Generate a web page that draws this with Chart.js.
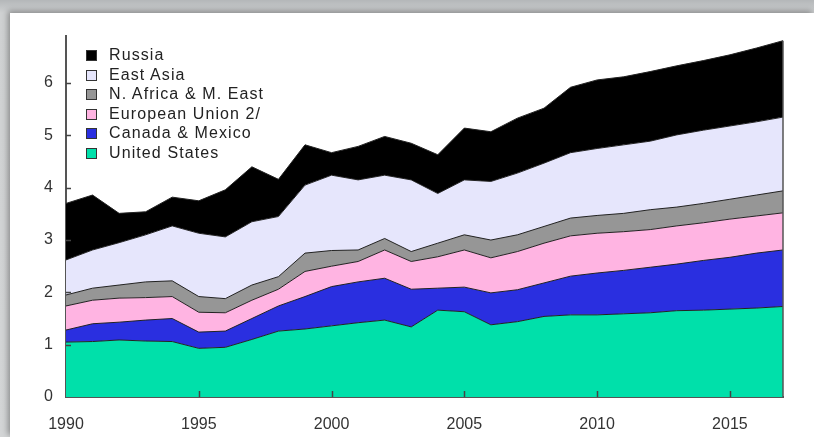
<!DOCTYPE html>
<html>
<head>
<meta charset="utf-8">
<script src="https://cdn.jsdelivr.net/npm/chart.js@4"></script>
<style>
    html, body { margin: 0; padding: 0; width: 814px; height: 437px; overflow: hidden; }
    body { background: linear-gradient(180deg, #b4b7b9 0px, #cfd1d2 13px, #d3d5d6 100%); position: relative; }
    #panel { position: absolute; left: 10px; top: 13px; right: 0; bottom: 0; background: #fff; box-shadow: -2px -2px 6px rgba(0,0,0,0.35); }
    #wrap { position: absolute; left: 0; top: 0; width: 814px; height: 437px; }
    #legend { position: absolute; left: 86px; top: 45px; font-family: "Liberation Sans", Arial, sans-serif; font-size: 16px; letter-spacing: 1.1px; color: #222; }
    #legend div { height: 19.5px; line-height: 19.5px; white-space: nowrap; }
    #legend span.box { display: inline-block; width: 9px; height: 9px; border: 1px solid #333; margin-right: 12px; vertical-align: -1px; }
</style>
</head>
<body>
<div id="panel"></div>
<div id="wrap"><canvas id="chart" width="814" height="437"></canvas></div>
<div id="legend"></div>
<script>
// Years on the x axis
const years = [];
for (let y = 1990; y <= 2017; y++) years.push(String(y));

const yTicks = [0, 1, 2, 3, 4, 5, 6];

// Series values (stacked, bottom to top)
const unitedStates = [1.05, 1.06, 1.09, 1.07, 1.06, 0.93, 0.95, 1.10, 1.26, 1.30, 1.36, 1.42, 1.47, 1.34, 1.66, 1.63, 1.38, 1.44, 1.54, 1.57, 1.57, 1.59, 1.61, 1.65, 1.66, 1.68, 1.70, 1.73];
const canadaMexico = [0.23, 0.34, 0.34, 0.40, 0.44, 0.31, 0.31, 0.40, 0.48, 0.62, 0.75, 0.78, 0.80, 0.72, 0.42, 0.47, 0.61, 0.61, 0.64, 0.74, 0.80, 0.83, 0.87, 0.89, 0.95, 0.99, 1.05, 1.08];
const europeanUnion = [0.46, 0.45, 0.46, 0.43, 0.42, 0.38, 0.35, 0.35, 0.32, 0.48, 0.39, 0.39, 0.54, 0.53, 0.60, 0.71, 0.67, 0.73, 0.76, 0.77, 0.76, 0.74, 0.72, 0.73, 0.72, 0.73, 0.71, 0.71];
const nAfricaMEast = [0.21, 0.23, 0.25, 0.30, 0.30, 0.30, 0.27, 0.29, 0.24, 0.35, 0.30, 0.22, 0.22, 0.19, 0.26, 0.29, 0.34, 0.32, 0.32, 0.34, 0.34, 0.35, 0.38, 0.36, 0.37, 0.38, 0.40, 0.42];
const eastAsia = [0.67, 0.73, 0.81, 0.90, 1.05, 1.21, 1.18, 1.21, 1.15, 1.30, 1.44, 1.34, 1.21, 1.37, 0.95, 1.05, 1.12, 1.18, 1.21, 1.25, 1.28, 1.31, 1.31, 1.38, 1.40, 1.40, 1.40, 1.41];
const russia = [1.08, 1.05, 0.56, 0.44, 0.55, 0.62, 0.90, 1.05, 0.71, 0.77, 0.43, 0.64, 0.74, 0.70, 0.74, 0.99, 0.95, 1.05, 1.05, 1.25, 1.31, 1.30, 1.33, 1.32, 1.33, 1.36, 1.41, 1.46];

const seriesLabels = ['United States', 'Canada & Mexico', 'European Union 2/', 'N. Africa & M. East', 'East Asia', 'Russia'];
const seriesData = [unitedStates, canadaMexico, europeanUnion, nAfricaMEast, eastAsia, russia];
const seriesColors = ['#00e0aa', '#2a2fe0', '#ffb4e2', '#969696', '#e6e6fc', '#000000'];

const fontFamily = '"Liberation Sans", Arial, sans-serif';

// Build the stacked area datasets
const datasets = seriesData.map((vals, i) => ({
    label: seriesLabels[i],
    data: vals,
    backgroundColor: seriesColors[i],
    borderColor: '#222',
    borderWidth: 1,
    fill: i === 0 ? 'origin' : '-1',
    pointRadius: 0,
    tension: 0,
}));

// Small inward tick marks and right edge line
const innerTicks = {
    id: 'innerTicks',
    afterDraw(chart) {
        const ctx = chart.ctx;
        const area = chart.chartArea;
        const xs = chart.scales.x;
        const ys = chart.scales.y;
        ctx.save();
        ctx.strokeStyle = '#444';
        ctx.lineWidth = 1.5;
        ctx.beginPath();
        yTicks.slice(1).forEach(v => {
            const py = Math.round(ys.getPixelForValue(v)) + 0.5;
            ctx.moveTo(area.left, py);
            ctx.lineTo(area.left + 5, py);
        });
        years.forEach((yr, i) => {
            if (i > 0 && Number(yr) % 5 === 0) {
                const px = Math.round(xs.getPixelForValue(i)) + 0.5;
                ctx.moveTo(px, area.bottom);
                ctx.lineTo(px, area.bottom - 6);
            }
        });
        ctx.stroke();
        ctx.strokeStyle = '#555';
        ctx.lineWidth = 1.5;
        ctx.beginPath();
        ctx.moveTo(area.right, area.bottom);
        ctx.lineTo(area.right, ys.getPixelForValue(russia.length ? 6.81 : 0));
        ctx.stroke();
        ctx.restore();
    }
};

const ctx = document.getElementById('chart').getContext('2d');
new Chart(ctx, {
    type: 'line',
    data: { labels: years, datasets: datasets },
    options: {
        responsive: false,
        animation: false,
        layout: { padding: { top: 36, right: 31, bottom: 0, left: 0 } },
        plugins: {
            legend: { display: false },
            tooltip: { enabled: false },
        },
        scales: {
            x: {
                offset: false,
                grid: { display: true, drawOnChartArea: false, drawTicks: false },
                border: { display: true, color: '#555', width: 2 },
                ticks: {
                    autoSkip: false,
                    maxRotation: 0,
                    padding: 18,
                    color: '#333',
                    font: { family: fontFamily, size: 16 },
                    callback: (v, i) => (Number(years[i]) % 5 === 0 ? years[i] : ''),
                },
                afterFit: (scale) => { scale.height = 40; },
            },
            y: {
                stacked: true,
                min: 0,
                max: 6.9,
                grid: { display: true, drawOnChartArea: false, drawTicks: false },
                border: { display: true, color: '#555', width: 2 },
                ticks: {
                    stepSize: 1,
                    padding: 13,
                    color: '#333',
                    font: { family: fontFamily, size: 16 },
                },
                afterBuildTicks: (scale) => {
                    scale.ticks = yTicks.map(v => ({ value: v }));
                },
                afterFit: (scale) => { scale.width = 66; },
            },
        },
    },
    plugins: [innerTicks],
});

// HTML legend, top entry first
const legend = document.getElementById('legend');
for (let i = seriesLabels.length - 1; i >= 0; i--) {
    const row = document.createElement('div');
    const box = document.createElement('span');
    box.className = 'box';
    box.style.background = seriesColors[i];
    row.appendChild(box);
    row.appendChild(document.createTextNode(seriesLabels[i]));
    legend.appendChild(row);
}
</script>
</body>
</html>
